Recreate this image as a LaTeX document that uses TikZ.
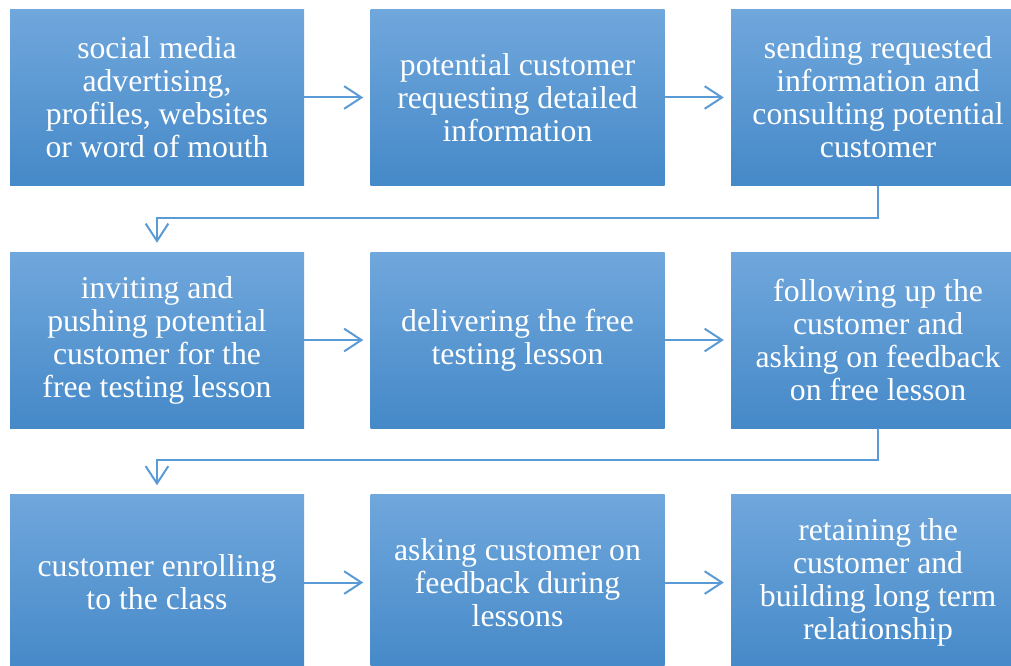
\documentclass[tikz,border=0pt]{standalone}
\usepackage{fontspec}
\setmainfont{Liberation Serif}
\usetikzlibrary{positioning,arrows.meta}

\definecolor{boxtop}{RGB}{112,167,220}
\definecolor{boxmid}{RGB}{86,153,217}
\definecolor{boxbot}{RGB}{69,137,200}
\definecolor{linkblue}{RGB}{91,155,213}

\tikzset{
    stage/.style = {rectangle, minimum width = 220.5pt, minimum height = 132pt,
        inner sep = 0pt, top color = boxtop, middle color = boxmid, bottom color = boxbot,
        text = white, align = center,
        font = \fontsize{23.8}{24.75}\selectfont},
    flow/.style = {draw = linkblue, line width = 1.5pt,
        -{Straight Barb[length = 13pt, width = 17pt, line width = 1.5pt]}}
}

\begin{document}
\begin{tikzpicture}[x = 0.75pt, y = -0.75pt, node distance = 49.5pt]
    \useasboundingbox (0,0) rectangle (1011,666);
    \clip (0,0) rectangle (1011,666);

    % first row
    \node[stage] (s1) at (157, 97.5) {social media\\advertising,\\profiles, websites\\or word of mouth};
    \node[stage, right = of s1] (s2) {potential customer\\requesting detailed\\information};
    \node[stage, right = of s2] (s3) {sending requested\\information and\\consulting potential\\customer};

    % second row
    \node[stage, below = of s1] (s4) {inviting and\\pushing potential\\customer for the\\free testing lesson};
    \node[stage, right = of s4] (s5) {delivering the free\\testing lesson};
    \node[stage, right = of s5] (s6) {following up the\\customer and\\asking on feedback\\on free lesson};

    % third row
    \node[stage, below = of s4] (s7) {customer enrolling\\to the class};
    \node[stage, right = of s7] (s8) {asking customer on\\feedback during\\lessons};
    \node[stage, right = of s8] (s9) {retaining the\\customer and\\building long term\\relationship};

    % links
    \draw[flow, shorten > = 5.25pt] (s1) -- (s2);
    \draw[flow, shorten > = 5.25pt] (s2) -- (s3);
    \draw[flow, shorten > = 5.25pt] (s4) -- (s5);
    \draw[flow, shorten > = 5.25pt] (s5) -- (s6);
    \draw[flow, shorten > = 5.25pt] (s7) -- (s8);
    \draw[flow, shorten > = 5.25pt] (s8) -- (s9);

    \draw[flow, shorten > = 6.75pt] (s3.south) -- ++(0,32) -| (s4.north);
    \draw[flow, shorten > = 6.75pt] (s6.south) -- ++(0,32) -| (s7.north);

\end{tikzpicture}
\end{document}
